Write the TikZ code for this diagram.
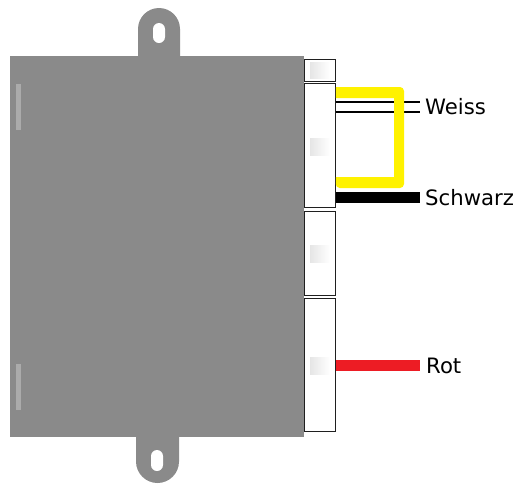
\documentclass[tikz,border=0pt]{standalone}
\usepackage{fontspec}
\setmainfont{DejaVu Sans}
\def\housing{(10,56) rectangle (304,437)}
\def\toplug{(138,60) -- (138,29) arc (180:360:21) -- (180,60) -- cycle}
\def\bottomlug{(136,430) -- (136,461.5) arc (180:0:21.5) -- (179,430) -- cycle}
\def\topslot{(153,29) arc (180:360:6) -- (165,37) arc (0:180:6) -- cycle}
\def\bottomslot{(151,456) arc (180:360:6) -- (163,465) arc (0:180:6) -- cycle}
\colorlet{housing grey}{black!46}
\colorlet{strip grey}{black!33}
\colorlet{plug edge}{black!88}
\definecolor{wire yellow}{HTML}{FFF200}
\definecolor{wire red}{HTML}{ED1C24}
\tikzset{body/.style={fill=housing grey},
    plug/.style={draw=plug edge, fill=white, line width=1pt, minimum width=31.5pt, inner sep=0pt, outer sep=0pt},
    window/.style={left color=black!10, right color=white, draw=none, minimum width=20pt, minimum height=17pt, inner sep=0pt},
    strip/.style={fill=strip grey},
    label/.style={anchor=base west, inner sep=0pt, font=\fontsize{21.2}{24}\selectfont}}

\begin{document}
\begin{tikzpicture}[x=1pt, y=-1pt]
     \useasboundingbox (0,0) rectangle (515,483);
     \node[plug, minimum height=22pt] (plugA) at (320,70) {};
     \node[plug, minimum height=124pt] (plugB) at (320,145) {};
     \node[plug, minimum height=84pt] (plugC) at (320,253) {};
     \node[plug, minimum height=133pt] (plugD) at (320,364.5) {};
     \node[window, minimum height=16pt] (windowA) at (320,70) {};
     \node[window] (windowB) at (320,146.5) {};
     \node[window] (windowC) at (320,253.5) {};
     \node[window] (windowD) at (320,365.5) {};
     \fill[body] \toplug;
     \fill[body] \bottomlug;
     \fill[body] \housing;
     \fill[white] \topslot;
     \fill[white] \bottomslot;
     \fill[strip] (16,84) rectangle (21,130);
     \fill[strip] (16,364) rectangle (21,410);
     % labels
     \node[label] (weiss) at (425,114) {Weiss};
     \node[label] (schwarz) at (425,205) {Schwarz};
     \node[label] (rot) at (426,373) {Rot};
     % wires
     \coordinate (weissA) at (420,102);
     \coordinate (weissB) at (420,112);
     \coordinate (schwarzend) at (420,197.5);
     \coordinate (rotend) at (420,365.5);
     \draw[line width=2pt] (plugB.east |- weissA) -- (weissA);
     \draw[line width=2pt] (plugB.east |- weissB) -- (weissB);
     \fill[wire yellow, rounded corners=4pt] (plugB.east |- 0,87) -- (404,87) -- (404,188) -- (plugB.east |- 0,188) [sharp corners] -- (plugB.east |- 0,177) -- (394,177) -- (394,98) -- (plugB.east |- 0,98) -- cycle;
     \draw[black, line width=11pt] (plugB.east |- schwarzend) -- (schwarzend);
     \draw[wire red, line width=11pt] (plugD.east |- rotend) -- (rotend);
 \end{tikzpicture}
\end{document}
